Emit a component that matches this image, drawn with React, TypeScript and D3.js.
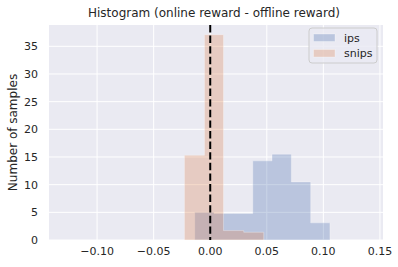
import { useEffect, useRef } from 'react';
import * as d3 from 'd3';

const xTicks = [-0.1, -0.05, 0, 0.05, 0.1, 0.15];
const yTicks = [0, 5, 10, 15, 20, 25, 30, 35];

const ipsEdges = [-0.0137, 0.0034, 0.0205, 0.0376, 0.0546, 0.0717, 0.0888, 0.1058];
const ipsCounts = [5.0, 4.8, 4.8, 14.3, 15.5, 10.5, 3.1];
const snipsEdges = [-0.0228, -0.0051, 0.0117, 0.0296, 0.0473];
const snipsCounts = [15.3, 37.1, 1.7, 1.4];

const seriesNames = ['ips', 'snips'];
const seriesColors = ['#4C72B0', '#DD8452'];

export default function App() {
  const svgRef = useRef<SVGSVGElement>(null);

  useEffect(() => {
    if (!svgRef.current) return;
    const W = 398;
    const H = 267;
    const M = { top: 25, right: 15, bottom: 27, left: 49 };
    const font = 'DejaVu Sans, sans-serif';
    const textColor = '#262626';

    const svg = d3.select(svgRef.current).attr('width', W).attr('height', H);
    svg.selectAll('*').remove();

    const x = d3.scaleLinear().domain([-0.1425, 0.1527]).range([M.left, W - M.right]);
    const y = d3.scaleLinear().domain([0, 38.85]).range([H - M.bottom, M.top]);

    // Axes background
    svg.append('rect')
      .attr('x', M.left).attr('y', M.top)
      .attr('width', W - M.left - M.right).attr('height', H - M.top - M.bottom)
      .style('fill', '#EAEAF2');

    // Grid
    svg.append('g').selectAll('line').data(xTicks).join('line')
      .attr('x1', d => x(d)).attr('x2', d => x(d))
      .attr('y1', M.top).attr('y2', H - M.bottom)
      .style('stroke', '#fff').style('stroke-width', 1);
    svg.append('g').selectAll('line').data(yTicks).join('line')
      .attr('x1', M.left).attr('x2', W - M.right)
      .attr('y1', d => y(d)).attr('y2', d => y(d))
      .style('stroke', '#fff').style('stroke-width', 1);

    // Step-filled histograms
    const step = d3.line<[number, number]>()
      .x(d => x(d[0]))
      .y(d => y(d[1]))
      .curve(d3.curveStepAfter);

    const hists = [
      { edges: ipsEdges, counts: ipsCounts, color: seriesColors[0] },
      { edges: snipsEdges, counts: snipsCounts, color: seriesColors[1] },
    ];
    for (const { edges, counts, color } of hists) {
      const pts: [number, number][] = [[edges[0], 0]];
      counts.forEach((c, i) => pts.push([edges[i], c]));
      pts.push([edges[edges.length - 1], 0]);
      svg.append('path')
        .attr('d', step(pts) + 'Z')
        .style('fill', color).style('fill-opacity', 0.3)
        .style('stroke', '#fff').style('stroke-opacity', 0.3).style('stroke-width', 1);
    }

    // Vertical dashed line at zero
    svg.append('line')
      .attr('x1', x(0)).attr('x2', x(0))
      .attr('y1', M.top).attr('y2', H - M.bottom)
      .style('stroke', '#000').style('stroke-width', 2)
      .style('stroke-dasharray', '7.4,3.2');

    // Tick labels
    const fmt = (d: number) => d3.format('.2f')(d).replace('-', '\u2212');
    svg.append('g').selectAll('text').data(xTicks).join('text')
      .attr('x', d => x(d)).attr('y', H - M.bottom + 15)
      .attr('text-anchor', 'middle')
      .style('font-family', font).style('font-size', '11px').style('fill', textColor)
      .text(d => fmt(d));
    svg.append('g').selectAll('text').data(yTicks).join('text')
      .attr('x', M.left - 11).attr('y', d => y(d) + 4)
      .attr('text-anchor', 'end')
      .style('font-family', font).style('font-size', '11px').style('fill', textColor)
      .text(d => d);

    // Title and axis label
    svg.append('text')
      .attr('x', 214).attr('y', 17)
      .attr('text-anchor', 'middle')
      .style('font-family', font).style('font-size', '12px').style('fill', textColor)
      .text('Histogram (online reward - offline reward)');
    svg.append('text')
      .attr('transform', `translate(17,${(M.top + H - M.bottom) / 2}) rotate(-90)`)
      .attr('text-anchor', 'middle')
      .style('font-family', font).style('font-size', '12px').style('fill', textColor)
      .text('Number of samples');

    // Legend
    const lx = 309;
    const ly = 28;
    svg.append('rect')
      .attr('x', lx).attr('y', ly).attr('width', 68).attr('height', 35).attr('rx', 3)
      .style('fill', '#EAEAF2').style('fill-opacity', 0.8)
      .style('stroke', '#cccccc').style('stroke-width', 1);
    seriesNames.forEach((name, i) => {
      const cy = ly + 9.5 + i * 15.5;
      svg.append('rect')
        .attr('x', lx + 4.5).attr('y', cy - 3.5).attr('width', 21.5).attr('height', 7.5)
        .style('fill', seriesColors[i]).style('fill-opacity', 0.3)
        .style('stroke', '#fff').style('stroke-opacity', 0.3);
      svg.append('text')
        .attr('x', lx + 35).attr('y', cy + 4)
        .style('font-family', font).style('font-size', '11px').style('fill', textColor)
        .text(name);
    });
  }, []);

  return (
    <div style={{ position: 'absolute', left: 0, top: 0 }}>
      <svg ref={svgRef} style={{ display: 'block' }} />
    </div>
  );
}
